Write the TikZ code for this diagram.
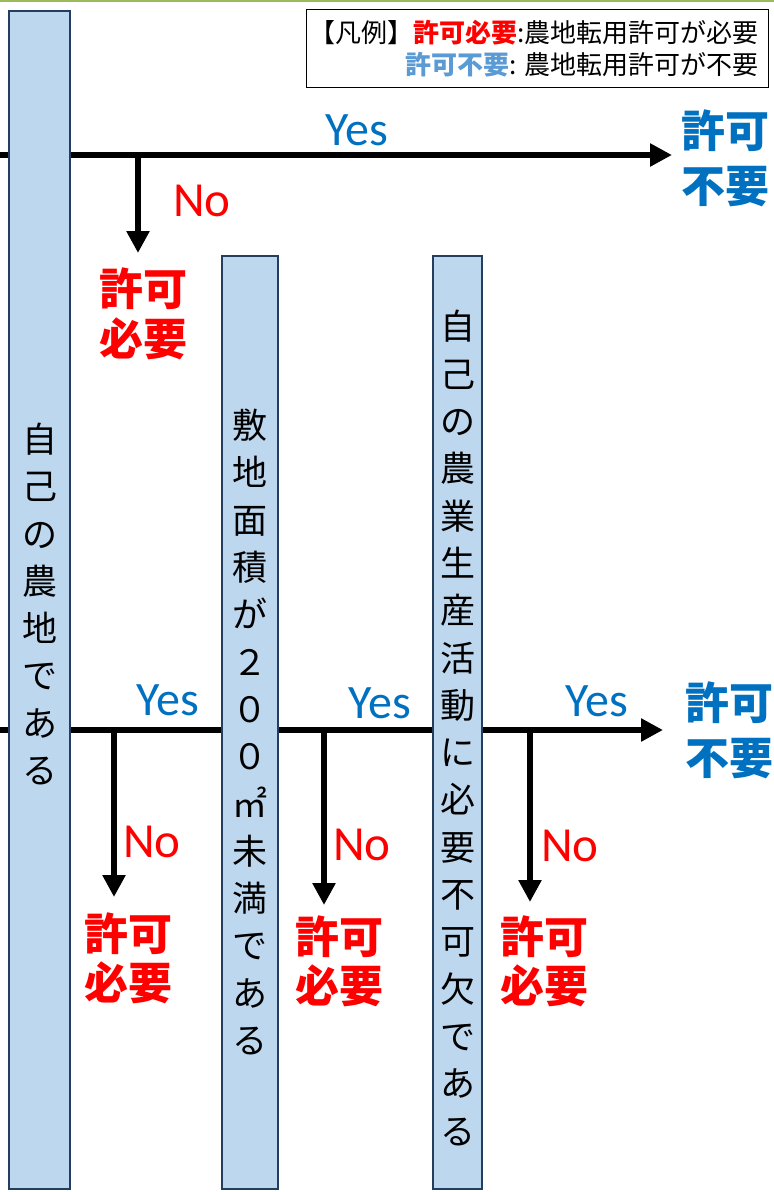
\documentclass[tikz,border=0pt]{standalone}
\usepackage{fontspec}
\newfontfamily\jp{Noto Sans CJK JP}
\newfontfamily\lat{Carlito}
\usetikzlibrary{arrows.meta}
\definecolor{barfill}{HTML}{BDD7EE}
\definecolor{barline}{HTML}{243F5E}
\definecolor{yesblue}{HTML}{0070C0}
\definecolor{lblue}{HTML}{5B9BD5}
\definecolor{topgreen}{HTML}{9BBB59}
\definecolor{nored}{HTML}{FF0000}
\begin{document}
\begin{tikzpicture}[x=1pt,y=-1pt,
  bar/.style={draw=barline,fill=barfill,line width=2.4pt,inner sep=0pt},
  bartext/.style={font=\jp\fontsize{35}{47.3}\selectfont,align=center,inner sep=0pt},
  flow/.style={line width=6.5pt,draw=black},
  flowarrow/.style={flow,-{Triangle[width=22pt,length=22pt]}},
  yes/.style={font=\lat\fontsize{48}{50}\selectfont,text=yesblue,inner sep=0pt},
  no/.style={font=\lat\fontsize{49}{50}\selectfont,text=nored,inner sep=0pt},
  need/.style={font=\jp\bfseries\fontsize{44}{49.5}\selectfont,text=nored,align=center,inner sep=0pt},
  noneed/.style={font=\jp\bfseries\fontsize{44}{55}\selectfont,text=yesblue,align=center,inner sep=0pt},
  legendbox/.style={draw=black,line width=1.6pt,inner sep=0pt},
  legendtext/.style={font=\jp\fontsize{26}{31.5}\selectfont,align=right,inner sep=0pt}
]
\useasboundingbox (0,0) rectangle (774,1192);
\draw[topgreen,line width=2.5pt] (0,1) -- (774,1);

% coordinates of the flow lines
\coordinate (L1s) at (0,155);
\coordinate (L1e) at (672,155);
\coordinate (B0s) at (138,155);
\coordinate (B0e) at (138,253);
\coordinate (L2s) at (0,730);
\coordinate (L2e) at (663,730);
\coordinate (B1s) at (114,730);
\coordinate (B1e) at (114,897);
\coordinate (B2s) at (324,730);
\coordinate (B2e) at (324,905);
\coordinate (B3s) at (530,730);
\coordinate (B3e) at (530,902);

\draw[flowarrow] (L1s) -- (L1e);
\draw[flowarrow] (B0s) -- (B0e);
\draw[flowarrow] (L2s) -- (L2e);
\draw[flowarrow] (B1s) -- (B1e);
\draw[flowarrow] (B2s) -- (B2e);
\draw[flowarrow] (B3s) -- (B3e);

% bars
\node[bar,minimum width=61pt,minimum height=1178pt] (bar1) at (39.5,600) {};
\node[bar,minimum width=56pt,minimum height=933pt] (bar2) at (250,722.5) {};
\node[bar,minimum width=49pt,minimum height=933pt] (bar3) at (457.5,722.5) {};

\node[bartext] (t1) at (40,604) {自\\己\\の\\農\\地\\で\\あ\\る};
\node[bartext] (t2) at (250,732) {敷\\地\\面\\積\\が\\２\\０\\０\\㎡\\未\\満\\で\\あ\\る};
\node[bartext] (t3) at (458,728) {自\\己\\の\\農\\業\\生\\産\\活\\動\\に\\必\\要\\不\\可\\欠\\で\\あ\\る};

% labels, upper question
\node[yes] (y0) at (357,130) {Yes};
\node[no] (n0) at (202,201) {No};
\node[noneed] (ok0) at (725,158) {許可\\不要};
\node[need] (ng0) at (143,314) {許可\\必要};

% labels, lower questions
\node[yes] (y1) at (168,700) {Yes};
\node[yes] (y2) at (380,703) {Yes};
\node[yes] (y3) at (597,701) {Yes};
\node[no] (n1) at (152,842) {No};
\node[no] (n2) at (362,845) {No};
\node[no] (n3) at (570,846) {No};
\node[noneed] (ok1) at (729,730) {許可\\不要};
\node[need] (ng1) at (128,958.5) {許可\\必要};
\node[need] (ng2) at (339,961.5) {許可\\必要};
\node[need] (ng3) at (544,961.5) {許可\\必要};

% legend
\node[legendbox,minimum width=462pt,minimum height=78pt] (leg) at (537.5,48.5) {};
\node[legendtext,anchor=east] (legt) at (759,48.5)
  {【凡例】{\bfseries\color{nored}許可必要}:農地転用許可が必要\\{\bfseries\color{lblue}許可不要}: 農地転用許可が不要};
\end{tikzpicture}
\end{document}
